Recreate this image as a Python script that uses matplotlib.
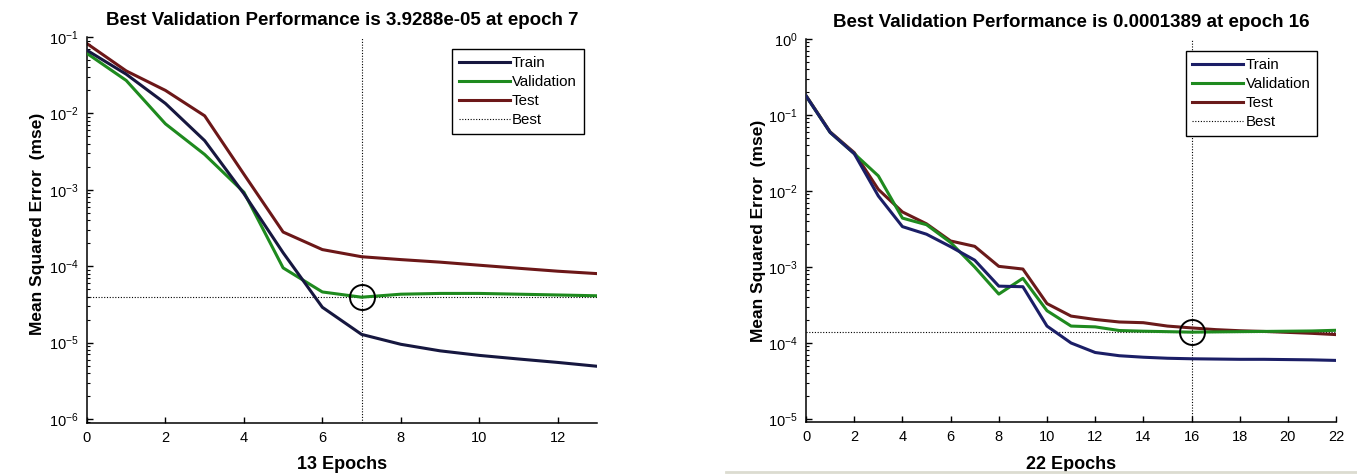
import matplotlib
matplotlib.use('Agg')
import matplotlib.pyplot as plt
import numpy as np
from matplotlib.lines import Line2D

plt.rcParams.update({
    'font.family': ['Liberation Sans', 'DejaVu Sans'],
    'mathtext.fontset': 'custom',
    'mathtext.rm': 'Liberation Sans',
    'mathtext.it': 'Liberation Sans:italic',
    'mathtext.bf': 'Liberation Sans:bold',
    'axes.linewidth': 1.1,
})

# ---- data: left panel (13 epochs) ----
epochs_a = np.arange(0, 14)
train_a = [0.067, 0.0326, 0.0135, 4.4e-3, 8.9e-4, 1.5e-4, 2.9e-5, 1.28e-5,
           9.5e-6, 7.8e-6, 6.8e-6, 6.1e-6, 5.5e-6, 4.9e-6]
val_a = [0.061, 0.027, 7.3e-3, 2.9e-3, 9.3e-4, 9.5e-5, 4.6e-5, 3.9288e-5,
         4.3e-5, 4.4e-5, 4.4e-5, 4.3e-5, 4.2e-5, 4.1e-5]
test_a = [0.082, 0.036, 0.020, 9.3e-3, 1.6e-3, 2.8e-4, 1.65e-4, 1.33e-4,
          1.22e-4, 1.13e-4, 1.03e-4, 9.4e-5, 8.6e-5, 8.0e-5]
best_epoch_a = 7
best_perf_a = 3.9288e-05

# ---- data: right panel (22 epochs) ----
epochs_b = np.arange(0, 23)
train_b = [0.178, 0.059, 0.031, 8.6e-3, 3.4e-3, 2.7e-3, 1.85e-3, 1.23e-3,
           5.6e-4, 5.5e-4, 1.67e-4, 1.0e-4, 7.5e-5, 6.8e-5, 6.5e-5, 6.3e-5,
           6.2e-5, 6.15e-5, 6.1e-5, 6.1e-5, 6.05e-5, 6.0e-5, 5.9e-5]
val_b = [0.178, 0.059, 0.031, 0.0158, 4.4e-3, 3.6e-3, 2.1e-3, 1.0e-3,
         4.4e-4, 7.1e-4, 2.66e-4, 1.67e-4, 1.63e-4, 1.46e-4, 1.43e-4, 1.41e-4,
         1.389e-4, 1.40e-4, 1.41e-4, 1.42e-4, 1.43e-4, 1.44e-4, 1.47e-4]
test_b = [0.180, 0.060, 0.032, 0.0105, 5.3e-3, 3.7e-3, 2.2e-3, 1.87e-3,
          1.02e-3, 9.4e-4, 3.3e-4, 2.26e-4, 2.04e-4, 1.89e-4, 1.85e-4, 1.67e-4,
          1.58e-4, 1.50e-4, 1.45e-4, 1.42e-4, 1.38e-4, 1.34e-4, 1.29e-4]
best_epoch_b = 16
best_perf_b = 1.389e-4


def draw_panel(ax, ep, tr, va, te, best_ep, best_perf, colors, ylim,
               decades, xticks, title, xlabel, label_xy, title_y, xlab_y):
    c_tr, c_va, c_te = colors
    ax.plot(ep, tr, color=c_tr, lw=2.2, label='Train', zorder=4)
    ax.plot(ep, va, color=c_va, lw=2.2, label='Validation', zorder=3)
    ax.plot(ep, te, color=c_te, lw=2.2, label='Test', zorder=2)
    ax.axvline(best_ep, color='black', lw=0.8, ls=(0, (1, 1.5)), zorder=1)
    ax.axhline(best_perf, color='black', lw=0.8, ls=(0, (1, 1.5)),
               label='Best', zorder=1)
    ax.plot(best_ep, best_perf, 'o', mfc='none', mec='black', ms=18,
            mew=1.4, zorder=5)

    ax.set_yscale('log')
    ax.set_ylim(*ylim)
    ax.set_xlim(ep[0], ep[-1])
    ax.set_yticks([10.0 ** k for k in decades])
    ax.set_yticklabels([r'$10^{%d}$' % k for k in decades])
    ax.set_xticks(xticks)
    ax.set_xticklabels([str(t) for t in xticks])

    for s in ['top', 'right']:
        ax.spines[s].set_visible(False)
    ax.tick_params(which='major', direction='in', length=4, width=1,
                   labelsize=10.5, pad=6)
    ax.tick_params(which='minor', direction='in', length=2, width=0.8)
    ax.tick_params(axis='x', which='minor', bottom=False)

    ax.set_ylabel('Mean Squared Error  (mse)', fontsize=12.5,
                  fontweight='bold')
    ax.yaxis.set_label_coords(*label_xy)
    ax.set_xlabel(xlabel, fontsize=13, fontweight='bold')
    ax.xaxis.set_label_coords(0.5, xlab_y)
    ax.text(0.5, title_y, title, transform=ax.transAxes, ha='center',
            va='center', fontsize=13.5, fontweight='bold')

    handles = [Line2D([], [], color=c_tr, lw=2.2),
               Line2D([], [], color=c_va, lw=2.2),
               Line2D([], [], color=c_te, lw=2.2),
               Line2D([], [], color='black', lw=0.8, ls=(0, (1, 1.5)))]
    leg = ax.legend(handles, ['Train', 'Validation', 'Test', 'Best'],
                    loc='upper left', bbox_to_anchor=(0.716, 0.968),
                    borderaxespad=0, fontsize=10.8, handlelength=3.4,
                    handletextpad=0.15, labelspacing=0.33, borderpad=0.45,
                    fancybox=False, framealpha=1, edgecolor='black')
    leg.get_frame().set_linewidth(1.0)
    leg.set_zorder(10)


fig = plt.figure(figsize=(13.57, 4.74), dpi=100)

ax1 = fig.add_axes([0.0641, 0.1076, 0.3758, 0.8143])
draw_panel(ax1, epochs_a, train_a, val_a, test_a, best_epoch_a, best_perf_a,
           ('#16173f', '#1e8a1e', '#6c1718'), (8.86e-7, 1e-1),
           range(-6, 0), list(range(0, 13, 2)),
           'Best Validation Performance is 3.9288e-05 at epoch 7',
           '13 Epochs', (-0.083, 0.515), 1.044, -0.085)

ax2 = fig.add_axes([0.5940, 0.1097, 0.3906, 0.8080])
draw_panel(ax2, epochs_b, train_b, val_b, test_b, best_epoch_b, best_perf_b,
           ('#1b1e66', '#1f8a1f', '#6a1a1a'), (9.13e-6, 1.0),
           range(-5, 1), list(range(0, 23, 2)),
           'Best Validation Performance is 0.0001389 at epoch 16',
           '22 Epochs', (-0.076, 0.5), 1.042, -0.088)

# faint scan border under the right panel
fig.add_artist(Line2D([0.535, 1.0], [0.004, 0.004], color='#dcdcd0', lw=2,
                      transform=fig.transFigure))

fig.savefig('out.png', dpi=100, facecolor='white')
